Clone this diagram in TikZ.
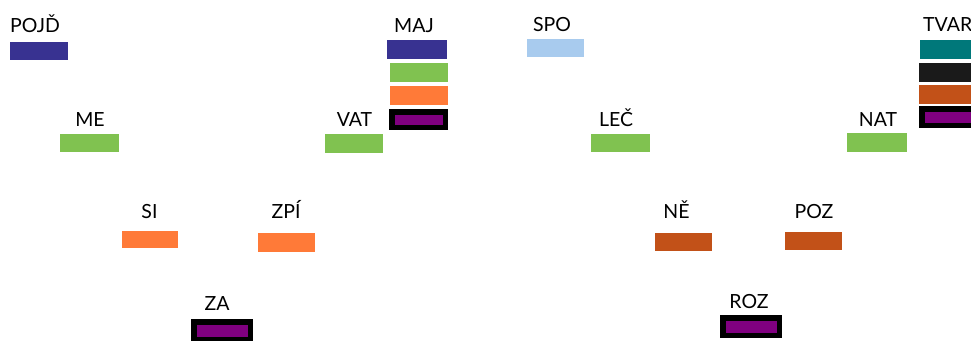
\documentclass[tikz,border=0pt]{standalone}
\usepackage{fontspec}
\setmainfont{Lato}
\definecolor{cblue}{HTML}{383291}
\definecolor{cgreen}{HTML}{80C250}
\definecolor{corange}{HTML}{FF7A38}
\definecolor{clight}{HTML}{A8CBEE}
\definecolor{cbrown}{HTML}{C25118}
\definecolor{cteal}{HTML}{00787A}
\definecolor{cblack}{HTML}{1A1A1A}
\definecolor{cpurple}{HTML}{800080}
\begin{document}
\begin{tikzpicture}[x=1pt,y=-1pt,
  bar/.style={rectangle,inner sep=0pt,minimum width=58pt,minimum height=18.5pt,draw=none},
  framed/.style={rectangle,inner sep=0pt,minimum width=56pt,minimum height=16.5pt,fill=cpurple,draw=black,line width=5.5pt},
  lbl/.style={anchor=base,inner sep=0pt,font=\fontsize{19.5}{22}\selectfont,text=black}]
\useasboundingbox (0,0) rectangle (971,340);
% row 1
\node[lbl] (tpojd) at (35,32) {POJĎ};
\node[bar,fill=cblue] (bpojd) at (38.5,51) {};
\node[lbl] (tmaj) at (414,32) {MAJ};
\node[bar,fill=cblue,minimum width=60pt] (bmaj1) at (417,49.5) {};
\node[bar,fill=cgreen] (bmaj2) at (418.5,72.5) {};
\node[bar,fill=corange] (bmaj3) at (418.5,95.5) {};
\node[framed,minimum width=53.5pt,minimum height=15.5pt] (bmaj4) at (418.5,119.5) {};
\node[lbl] (tspo) at (552,31) {SPO};
\node[bar,fill=clight,minimum width=57pt,minimum height=18pt] (bspo) at (555,47.5) {};
\node[lbl,anchor=base west] (ttvar) at (923,31) {TVAR};
\node[bar,fill=cteal,minimum width=60pt] (btvar1) at (950,49.5) {};
\node[bar,fill=cblack,minimum width=61pt] (btvar2) at (949.5,72.5) {};
\node[bar,fill=cbrown,minimum width=61pt] (btvar3) at (949.5,94.5) {};
\node[framed,minimum width=55pt,minimum height=16.5pt] (btvar4) at (949.5,117) {};
% row 2
\node[lbl] (tme) at (90,126) {ME};
\node[bar,fill=cgreen,minimum width=59pt,minimum height=18pt] (bme) at (89.5,143) {};
\node[lbl] (tvat) at (354.5,126) {VAT};
\node[bar,fill=cgreen,minimum height=19pt] (bvat) at (354,143.5) {};
\node[lbl] (tlec) at (616,126) {LEČ};
\node[bar,fill=cgreen,minimum width=59pt,minimum height=18pt] (blec) at (620.5,143) {};
\node[lbl] (tnat) at (878,126) {NAT};
\node[bar,fill=cgreen,minimum width=60pt,minimum height=19pt] (bnat) at (877,142.5) {};
% row 3
\node[lbl] (tsi) at (149.5,218) {SI};
\node[bar,fill=corange,minimum width=56pt,minimum height=17pt] (bsi) at (150,239.5) {};
\node[lbl] (tzpi) at (286,218) {ZPÍ};
\node[bar,fill=corange,minimum width=57pt,minimum height=19pt] (bzpi) at (286.5,242.5) {};
\node[lbl] (tne) at (676.5,218) {NĚ};
\node[bar,fill=cbrown,minimum width=57pt,minimum height=18pt] (bne) at (683.5,242) {};
\node[lbl] (tpoz) at (814,218) {POZ};
\node[bar,fill=cbrown,minimum width=57pt,minimum height=18pt] (bpoz) at (813.5,241) {};
% row 4
\node[lbl] (tza) at (217,310) {ZA};
\node[framed,minimum width=56.5pt,minimum height=17.5pt] (bza) at (222,330.5) {};
\node[lbl] (troz) at (749,308) {ROZ};
\node[framed,minimum width=56.5pt,minimum height=17.5pt] (broz) at (751,326.5) {};
\end{tikzpicture}
\end{document}
